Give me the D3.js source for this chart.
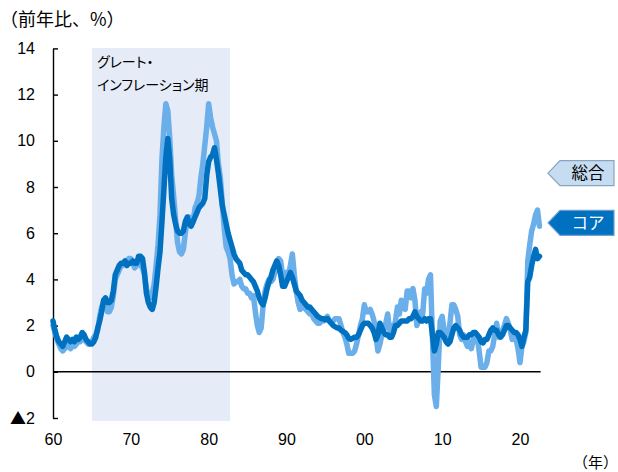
<!DOCTYPE html>
<html>
<head>
<meta charset="utf-8">
<script src="https://cdn.jsdelivr.net/npm/d3@7"></script>
<style>
  html, body { margin: 0; padding: 0; background: #fff; }
  svg { display: block; }
  .jp { font-family: "Noto Sans CJK JP", "Noto Sans", sans-serif; }
  .palt { font-feature-settings: "palt"; }
  .num { font-family: "Liberation Sans", Arial, sans-serif; }
</style>
</head>
<body>
<svg id="chart" width="618" height="472"></svg>
<script>
// PCE price index, year-over-year (%), quarterly from 1960Q1
const startYear = 1960;
const periodsPerYear = 4;

// Headline (総合)
const headlineValues = [
  2.0, 1.7, 1.4, 1.2,   1.0, 0.9, 1.0, 1.1,   1.2, 1.0, 1.2, 1.1,   1.2, 1.3, 1.3, 1.5,
  1.4, 1.3, 1.2, 1.3,   1.3, 1.5, 1.6, 1.8,   2.4, 2.8, 3.0, 3.0,   2.6, 2.6, 2.8, 3.3,
  4.0, 4.2, 4.4, 4.6,   4.6, 4.7, 4.8, 4.9,   4.9, 4.7, 4.5, 4.6,   4.7, 4.6, 4.5, 4.2,
  3.6, 3.3, 3.2, 3.4,   3.8, 4.6, 5.5, 6.8,   9.2, 10.6, 11.6, 11.3, 10.1, 8.5, 7.6, 6.6,
  5.6, 5.2, 5.1, 5.3,   6.0, 6.6, 6.7, 6.4,   6.5, 7.1, 7.3, 7.6,   8.4, 9.0, 9.8, 10.6,
  11.6, 11.0, 10.6, 10.3, 10.0, 9.0, 8.4, 7.3, 6.2, 5.4, 5.2, 4.9,  4.2, 3.8, 3.9, 3.9,
  4.0, 3.7, 3.6, 3.6,   3.4, 3.4, 3.2, 3.3,   2.6, 2.0, 1.7, 1.9,   2.9, 3.5, 3.8, 4.0,
  3.9, 4.0, 4.3, 4.4,   4.9, 4.8, 4.2, 4.1,   4.3, 4.2, 4.6, 5.1,   4.2, 3.5, 3.0, 2.7,
  2.8, 2.8, 2.7, 2.6,   2.5, 2.5, 2.3, 2.2,   2.1, 2.1, 2.2, 2.2,   2.3, 2.4, 2.2, 2.1,
  2.2, 2.3, 2.3, 2.3,   2.0, 1.7, 1.5, 1.2,   0.8, 0.8, 0.8, 0.9,   1.2, 1.6, 2.0, 2.3,
  2.9, 2.6, 2.6, 2.7,   2.5, 2.2, 1.5, 0.9,   1.2, 1.6, 1.8, 2.1,   2.5, 1.8, 2.0, 1.9,
  2.2, 2.8, 2.5, 3.1,   2.8, 2.7, 3.5, 3.5,   3.2, 3.6, 3.1, 2.0,   2.3, 2.6, 2.5, 3.6,
  3.4, 4.0, 4.2, 1.5,   -1.0, -1.5, 0.2, 2.2, 2.4, 1.8, 1.4, 1.4,   2.1, 2.9, 2.9, 2.7,
  2.4, 1.6, 1.4, 1.6,   1.3, 1.1, 1.3, 1.0,   1.4, 1.7, 1.5, 0.9,   0.2, 0.2, 0.2, 0.4,
  0.9, 0.9, 1.1, 1.6,   2.1, 1.5, 1.6, 1.8,   2.0, 2.3, 2.1, 1.8,   1.4, 1.5, 1.4, 1.0,
  0.4, 1.1, 1.3, 1.7,   4.8, 5.5, 6.1, 6.4,   6.8, 7.0, 6.3
];

// Core (コア)
const coreValues = [
  2.2, 1.8, 1.5, 1.3,   1.2, 1.1, 1.3, 1.5,   1.4, 1.3, 1.4, 1.3,   1.5, 1.4, 1.5, 1.7,
  1.6, 1.4, 1.3, 1.2,   1.2, 1.3, 1.5, 1.9,   2.2, 2.6, 3.1, 3.2,   3.0, 3.0, 3.1, 3.5,
  4.2, 4.4, 4.6, 4.7,   4.7, 4.8, 4.6, 4.7,   4.7, 4.8, 4.7, 4.7,   5.0, 5.0, 4.9, 4.3,
  3.4, 3.0, 2.8, 2.7,   3.0, 3.7, 4.5, 5.2,   6.5, 7.9, 9.3, 10.1,  9.2, 7.5, 6.8, 6.4,
  6.1, 6.0, 6.0, 6.1,   6.5, 6.7, 6.4, 6.3,   6.5, 6.7, 6.9, 7.1,   7.2, 7.3, 7.5, 8.5,
  9.1, 9.3, 9.4, 9.7,   9.2, 8.6, 7.9, 7.2,   6.8, 6.4, 6.0, 5.7,   5.4, 5.1, 4.9, 4.8,
  4.7, 4.4, 4.3, 4.2,   4.2, 4.1, 4.0, 3.9,   3.7, 3.5, 3.2, 3.0,   2.9, 3.2, 3.6, 3.9,
  4.1, 4.4, 4.6, 4.8,   4.6, 4.2, 3.7, 3.7,   3.9, 4.1, 4.3, 4.1,   3.8, 3.5, 3.4, 3.3,
  3.1, 3.0, 2.9, 2.8,   2.8, 2.7, 2.6, 2.5,   2.4, 2.35, 2.3, 2.3,  2.25, 2.3, 2.2, 2.1,
  2.0, 1.95, 1.9, 1.9,  1.8, 1.75, 1.7, 1.6,  1.45, 1.4, 1.45, 1.5, 1.5, 1.6, 1.8, 2.0,
  2.1, 2.1, 2.1, 2.0,   1.9, 1.7, 1.4, 1.6,   2.1, 1.9, 1.7, 1.6,   1.6, 1.5, 1.5, 1.7,
  2.0, 2.0, 2.1, 2.2,   2.2, 2.2, 2.2, 2.3,   2.3, 2.4, 2.6, 2.4,   2.3, 2.2, 2.2, 2.3,
  2.2, 2.3, 2.3, 1.6,   0.9, 1.2, 1.7, 1.7,   1.6, 1.5, 1.3, 1.2,   1.3, 1.6, 1.9, 2.0,
  1.9, 1.8, 1.6, 1.5,   1.5, 1.5, 1.6, 1.6,   1.7, 1.7, 1.6, 1.5,   1.3, 1.25, 1.4, 1.4,
  1.6, 1.8, 1.9, 1.8,   1.8, 1.6, 1.5, 1.6,   1.8, 2.0, 2.0, 1.9,   1.8, 1.7, 1.7, 1.6,
  1.4, 1.1, 1.5, 1.8,   3.9, 4.1, 4.6, 5.0,   5.3, 4.9, 5.0
];

// Axis ticks and labels
const yTicks = [-2, 0, 2, 4, 6, 8, 10, 12, 14];
const yTickLabels = ["▲2", "0", "2", "4", "6", "8", "10", "12", "14"];
const xTicks = [1960, 1970, 1980, 1990, 2000, 2010, 2020];
const xTickLabels = ["60", "70", "80", "90", "00", "10", "20"];

// Great Inflation period shading
const bandStart = 1965;
const bandEnd = 1982.75;
const bandLabel = ["グレート・", "インフレーション期"];

// Legend tags, placed at these levels on the value axis
const legendItems = [
  { name: "総合", value: 8.6 },
  { name: "コア", value: 6.45 }
];

const svg = d3.select("#chart");

const x = d3.scaleLinear().domain([1960, 2020]).range([53, 520]);
const y = d3.scaleLinear().domain([-2, 14]).range([418, 48.4]);

const toSeries = vals => vals.map((v, i) => ({ t: startYear + i / periodsPerYear, v }));
const headline = toSeries(headlineValues);
const core = toSeries(coreValues);

// Shaded period: a pale base with one slim bar per month on top
const bandTop = y(14) - 0.5;
const bandHeight = y(-2) - y(14) + 3;
svg.append("rect")
  .attr("x", x(bandStart))
  .attr("width", x(bandEnd) - x(bandStart))
  .attr("y", bandTop)
  .attr("height", bandHeight)
  .attr("fill", "#f1f4fb");

const months = d3.range(0, Math.round((bandEnd - bandStart) * 12));
svg.append("g")
  .attr("shape-rendering", "crispEdges")
  .selectAll("rect")
  .data(months)
  .join("rect")
  .attr("x", m => x(bandStart + m / 12))
  .attr("width", m => x(bandStart + (m + 1) / 12) - x(bandStart + m / 12))
  .attr("y", bandTop)
  .attr("height", bandHeight)
  .attr("fill", "#e5ebf7");

svg.append("g").attr("class", "jp palt")
  .selectAll("text")
  .data(bandLabel)
  .join("text")
  .attr("x", x(bandStart) + 5)
  .attr("y", (d, i) => 67 + i * 23)
  .attr("font-size", 14)
  .attr("fill", "#000")
  .text(d => d);

// Zero line
svg.append("line")
  .attr("x1", x(1960)).attr("x2", x(2022.65))
  .attr("y1", y(0)).attr("y2", y(0))
  .attr("stroke", "#000").attr("stroke-width", 1.4);

// Y axis (ticks point inward)
const yAxis = d3.axisLeft(y)
  .tickValues(yTicks)
  .tickSize(-5)
  .tickSizeOuter(0)
  .tickPadding(18)
  .tickFormat(() => "");

const gy = svg.append("g")
  .attr("transform", `translate(${x(1960)},0)`)
  .call(yAxis);
gy.select(".domain").attr("stroke", "#000").attr("stroke-width", 1.4);
gy.selectAll(".tick line").attr("stroke", "#000").attr("stroke-width", 1.4);

// Tick labels: digits in a sans face, the ▲ sign in the CJK face
const yt = gy.selectAll(".tick text")
  .attr("class", "num")
  .attr("font-size", 16)
  .attr("fill", "#000");
yt.each(function (d, i) {
  const label = yTickLabels[i];
  const t = d3.select(this);
  if (label.startsWith("▲")) {
    t.append("tspan").attr("class", "jp").attr("font-size", 16).text("▲");
    t.append("tspan").text(label.slice(1));
  } else {
    t.text(label);
  }
});

// X axis labels only
const xAxis = d3.axisBottom(x)
  .tickValues(xTicks)
  .tickSize(0)
  .tickPadding(8)
  .tickFormat((d, i) => xTickLabels[i]);

const gx = svg.append("g")
  .attr("transform", `translate(0,${y(-2) + 8})`)
  .call(xAxis);
gx.select(".domain").remove();
gx.selectAll(".tick text")
  .attr("class", "num")
  .attr("font-size", 16)
  .attr("fill", "#000");

// Series lines
const line = d3.line().x(d => x(d.t)).y(d => y(d.v));

svg.append("path")
  .datum(headline)
  .attr("d", line)
  .attr("fill", "none")
  .attr("stroke", "#6aaeea")
  .attr("stroke-width", 5.5)
  .attr("stroke-linejoin", "round")
  .attr("stroke-linecap", "round");

svg.append("path")
  .datum(core)
  .attr("d", line)
  .attr("fill", "none")
  .attr("stroke", "#0070c0")
  .attr("stroke-width", 5.5)
  .attr("stroke-linejoin", "round")
  .attr("stroke-linecap", "round");

// Legend tags (arrow-shaped callouts)
const tagStyles = [
  { fill: "#c6dcf1", stroke: "#8aa4c0", text: "#000" },
  { fill: "#0070c0", stroke: "#6d9fd0", text: "#fff" }
];
const tagX0 = 548, tagBody = 560, tagX1 = 614, tagH = 25;
legendItems.forEach((item, i) => {
  const cy = y(item.value);
  const g = svg.append("g");
  g.append("path")
    .attr("d", `M${tagX0},${cy} L${tagBody},${cy - tagH / 2} L${tagX1},${cy - tagH / 2} L${tagX1},${cy + tagH / 2} L${tagBody},${cy + tagH / 2} Z`)
    .attr("fill", tagStyles[i].fill)
    .attr("stroke", tagStyles[i].stroke)
    .attr("stroke-width", 1.2);
  g.append("text")
    .attr("class", "jp")
    .attr("x", (tagBody + tagX1) / 2 + 1)
    .attr("y", cy)
    .attr("dy", "0.36em")
    .attr("text-anchor", "middle")
    .attr("font-size", 16.5)
    .attr("fill", tagStyles[i].text)
    .text(item.name);
});

// Unit labels
svg.append("text")
  .attr("class", "jp")
  .attr("x", 0)
  .attr("y", 26)
  .attr("font-size", 18)
  .attr("fill", "#000")
  .text("（前年比、%）");

svg.append("text")
  .attr("class", "jp")
  .attr("x", 618)
  .attr("y", 468)
  .attr("text-anchor", "end")
  .attr("font-size", 15)
  .attr("fill", "#000")
  .text("（年）");
</script>
</body>
</html>
